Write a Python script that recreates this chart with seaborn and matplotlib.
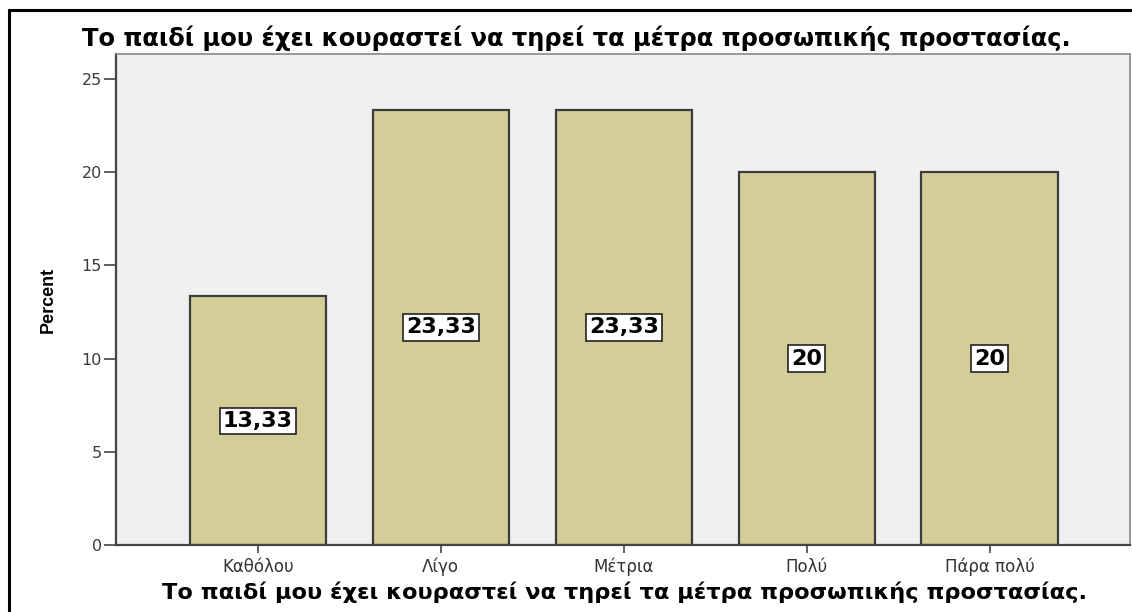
import matplotlib
matplotlib.use("Agg")
import matplotlib.pyplot as plt
import seaborn as sns
import pandas as pd
from matplotlib.lines import Line2D

categories = ["Καθόλου", "Λίγο", "Μέτρια", "Πολύ", "Πάρα πολύ"]
percent = [13.33, 23.33, 23.33, 20.0, 20.0]
value_labels = ["13,33", "23,33", "23,33", "20", "20"]
yticks = [0, 5, 10, 15, 20, 25]
title = "Το παιδί μου έχει κουραστεί να τηρεί τα μέτρα προσωπικής προστασίας."

sns.set_theme(style="white")
plt.rcParams['font.family'] = ['DejaVu Sans']
plt.rcParams['font.stretch'] = 'normal'

df = pd.DataFrame({"cat": categories, "pct": percent})

fig = plt.figure(figsize=(11.32, 6.12), dpi=100)
ax = fig.add_axes([116/1132, 1-545/612, (1130-116)/1132, (545-54)/612])
ax.set_facecolor("#F0F0F0")

sns.barplot(data=df, x="cat", y="pct", color="#D3CE97", saturation=1,
            edgecolor="#3C3C3C", linewidth=1.6, width=0.745, ax=ax)

ax.set_xlim(-0.776, 4.768)
ax.set_ylim(0, 26.33)
ax.set_yticks(yticks)
ax.set_yticklabels([str(t) for t in yticks])

for i, (v, lab) in enumerate(zip(percent, value_labels)):
    ax.text(i, v/2, lab, ha="center", va="center", fontsize=16, fontweight="bold",
            color="black",
            bbox=dict(boxstyle="square,pad=0.14", facecolor="white", edgecolor="#222222", linewidth=1.2))

ax.tick_params(axis="y", which="both", left=True, length=9, width=1.2, color="#444444",
               labelsize=11.5, labelcolor="#3a3a3a", pad=1)
ax.tick_params(axis="x", which="both", bottom=True, length=6, width=1.2, color="#444444",
               labelsize=12, labelcolor="#333333", pad=3)
for lab in ax.get_xticklabels() + ax.get_yticklabels():
    lab.set_fontfamily('DejaVu Sans')
    lab.set_fontstretch('normal')
    lab.set_fontweight('normal')

for side in ["left", "bottom"]:
    ax.spines[side].set_color("#444444")
    ax.spines[side].set_linewidth(1.6)
for side in ["top", "right"]:
    ax.spines[side].set_color("#888888")
    ax.spines[side].set_linewidth(1.2)

ax.set_xlabel(title, fontsize=16.2, fontweight="bold", color="black", labelpad=4)
ax.xaxis.label.set_x((625-116)/(1130-116))
ax.set_ylabel("Percent", fontsize=13, fontweight="bold", color="black",
              family=['Liberation Sans', 'DejaVu Sans'], labelpad=18)

fig.text(576/1132, 1-38/612, title, ha="center", va="center", fontsize=17.4,
         fontweight="bold", color="black")

# outer border
fig.add_artist(Line2D([9/1132, 9/1132], [0, 1-10/612], transform=fig.transFigure,
                      color="black", linewidth=2.2))
fig.add_artist(Line2D([9/1132, 1], [1-10/612, 1-10/612], transform=fig.transFigure,
                      color="black", linewidth=2.2))

fig.savefig("out.png", dpi=100, facecolor="white")
